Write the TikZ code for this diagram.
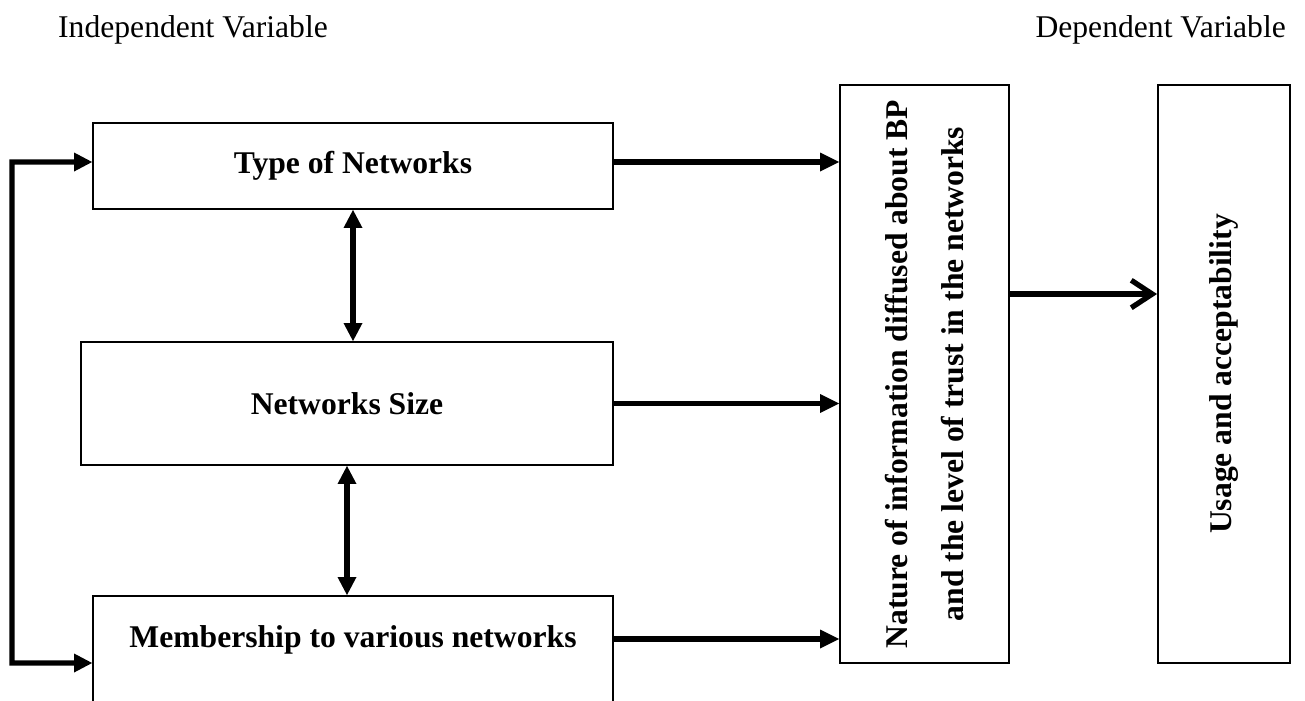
\documentclass[tikz,border=0pt]{standalone}
\usepackage{fontspec}
\setmainfont{Liberation Serif}
\usepackage{tikz}
\usetikzlibrary{arrows.meta,positioning,calc}
\tikzstyle{varbox} = [rectangle, draw=black, line width=1.1pt, inner sep=0pt, text centered, font=\fontsize{18}{32}\selectfont\bfseries]
\tikzstyle{arrow} = [line width=3pt, -{Triangle[length=0.38cm, width=0.38cm, line width=0pt]}]
\tikzstyle{dblarrow} = [line width=3pt, {Triangle[length=0.36cm, width=0.38cm, line width=0pt]}-{Triangle[length=0.36cm, width=0.38cm, line width=0pt]}]
\tikzstyle{openarrow} = [line width=3pt, -{Straight Barb[length=0.42cm, width=0.55cm]}]
\tikzstyle{header} = [font=\fontsize{18}{22}\selectfont]

\begin{document}
\begin{tikzpicture}[x=0.02cm, y=-0.02cm]
\useasboundingbox (0,0) rectangle (1305,700);

\node[header, anchor=west] (indep) at (52,30) {Independent Variable};
\node[header, anchor=east] (dep) at (1292,30) {Dependent Variable};

\node[varbox, minimum width=10.4cm, minimum height=1.72cm] (type) at (353,166) {Type of Networks};
\node[varbox, minimum width=10.64cm, minimum height=2.46cm] (size) at (347,403.5) {Networks Size};
\node[varbox, minimum width=10.4cm, minimum height=2.16cm, text depth=0.55cm] (member) at (353,650) {Membership to various networks};

\node[varbox, minimum width=11.56cm, minimum height=3.38cm, rotate=90, align=center] (info) at (924.5,374) {Nature of information diffused about BP\\and the level of trust in the networks};
\node[varbox, minimum width=11.56cm, minimum height=2.64cm, rotate=90] (usage) at (1224,374) {Usage and acceptability};

% links between the independent variables
\draw[dblarrow] (type.south) -- (type.south |- size.north);
\draw[dblarrow] (size.south) -- (size.south |- member.north);
\coordinate (lt) at (12,162);
\coordinate (lb) at (12,663);
\draw[dblarrow] ([yshift=0.08cm]type.west) -- (lt) -- (lb) -- (lb -| member.west);

% into the intermediate box (rotated, so its north side faces left)
\draw[arrow] ([yshift=0.08cm]type.east) -- ([yshift=0.08cm]type.east -| info.north);
\draw[arrow] (size.east) -- (size.east -| info.north);
\draw[arrow] ([yshift=0.22cm]member.east) -- ([yshift=0.22cm]member.east -| info.north);

\draw[openarrow] ([yshift=1.6cm]info.south) -- ([yshift=1.6cm]usage.north);
\end{tikzpicture}
\end{document}
